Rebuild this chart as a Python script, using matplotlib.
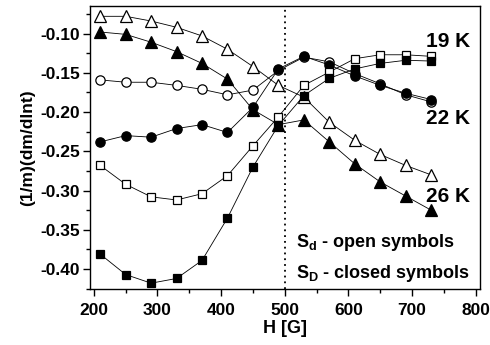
import matplotlib
matplotlib.use("Agg")
import matplotlib.pyplot as plt
from matplotlib.ticker import MultipleLocator, FormatStrFormatter

plt.rcParams['font.family'] = ['Liberation Sans', 'DejaVu Sans']
plt.rcParams['font.weight'] = 'bold'
plt.rcParams['axes.unicode_minus'] = False
plt.rcParams['mathtext.fontset'] = 'custom'
plt.rcParams['mathtext.rm'] = 'Liberation Sans:bold'
plt.rcParams['mathtext.bf'] = 'Liberation Sans:bold'

# field values (G)
H = [210, 250, 290, 330, 370, 410, 450, 490, 530, 570, 610, 650, 690, 730]

# 19 K
sd_19 = [-0.268, -0.292, -0.308, -0.312, -0.304, -0.281, -0.243, -0.206,
         -0.166, -0.149, -0.132, -0.127, -0.127, -0.129]
sD_19 = [-0.381, -0.407, -0.418, -0.412, -0.389, -0.335, -0.270, -0.217,
         -0.179, -0.157, -0.145, -0.138, -0.134, -0.135]
# 22 K
sd_22 = [-0.159, -0.162, -0.162, -0.166, -0.171, -0.178, -0.172, -0.147,
         -0.130, -0.136, -0.151, -0.164, -0.178, -0.187]
sD_22 = [-0.238, -0.230, -0.232, -0.221, -0.216, -0.226, -0.194, -0.145,
         -0.129, -0.140, -0.154, -0.166, -0.176, -0.184]
# 26 K
sd_26 = [-0.078, -0.078, -0.084, -0.092, -0.103, -0.120, -0.142, -0.166,
         -0.181, -0.213, -0.236, -0.254, -0.268, -0.280]
sD_26 = [-0.098, -0.101, -0.111, -0.123, -0.138, -0.158, -0.197, -0.216,
         -0.210, -0.238, -0.266, -0.289, -0.307, -0.325]

fig = plt.figure(figsize=(4.9, 3.45), dpi=100)
ax = fig.add_axes([0.1837, 0.161, 0.7949, 0.8213])

series = [
    (sd_26, '^', 'white', 8),
    (sD_26, '^', 'black', 8),
    (sd_22, 'o', 'white', 6.7),
    (sD_22, 'o', 'black', 6.7),
    (sd_19, 's', 'white', 5.8),
    (sD_19, 's', 'black', 5.8),
]
for vals, mk, fc, ms in series:
    ax.plot(H, vals, color='black', lw=0.6, zorder=2)
    ax.plot(H, vals, ls='none', marker=mk, ms=ms, mfc=fc, mec='black',
            mew=0.9, zorder=3)

ax.axvline(500, color='black', ls=(0, (1, 2.2)), lw=1.3, zorder=1)

ax.set_xlim(194, 806)
ax.set_ylim(-0.426, -0.065)
ax.xaxis.set_major_locator(MultipleLocator(100))
ax.xaxis.set_minor_locator(MultipleLocator(50))
ax.yaxis.set_major_locator(MultipleLocator(0.05))
ax.yaxis.set_minor_locator(MultipleLocator(0.025))
ax.yaxis.set_major_formatter(FormatStrFormatter('%.2f'))
ax.tick_params(which='major', direction='out', length=5, width=1,
               labelsize=12.5, pad=2)
ax.tick_params(which='minor', direction='out', length=3, width=1)
ax.tick_params(axis='x', pad=5)
for s in ax.spines.values():
    s.set_linewidth(1)

ax.set_xlabel('H [G]', fontsize=13, fontweight='bold', labelpad=1)
ax.set_ylabel('(1/m)(dm/dlnt)', fontsize=12.5, fontweight='bold', labelpad=4)

ax.text(791, -0.117, '19 K', ha='right', va='baseline', fontsize=15,
        fontweight='bold')
ax.text(791, -0.2146, '22 K', ha='right', va='baseline', fontsize=15,
        fontweight='bold')
ax.text(791, -0.3143, '26 K', ha='right', va='baseline', fontsize=15,
        fontweight='bold')
ax.text(518, -0.3716, r'S$_\mathregular{d}$ - open symbols', ha='left',
        va='baseline', fontsize=13, fontweight='bold')
ax.text(518, -0.4119, r'S$_\mathregular{D}$ - closed symbols', ha='left',
        va='baseline', fontsize=13, fontweight='bold')

fig.savefig('out.png', dpi=100)
